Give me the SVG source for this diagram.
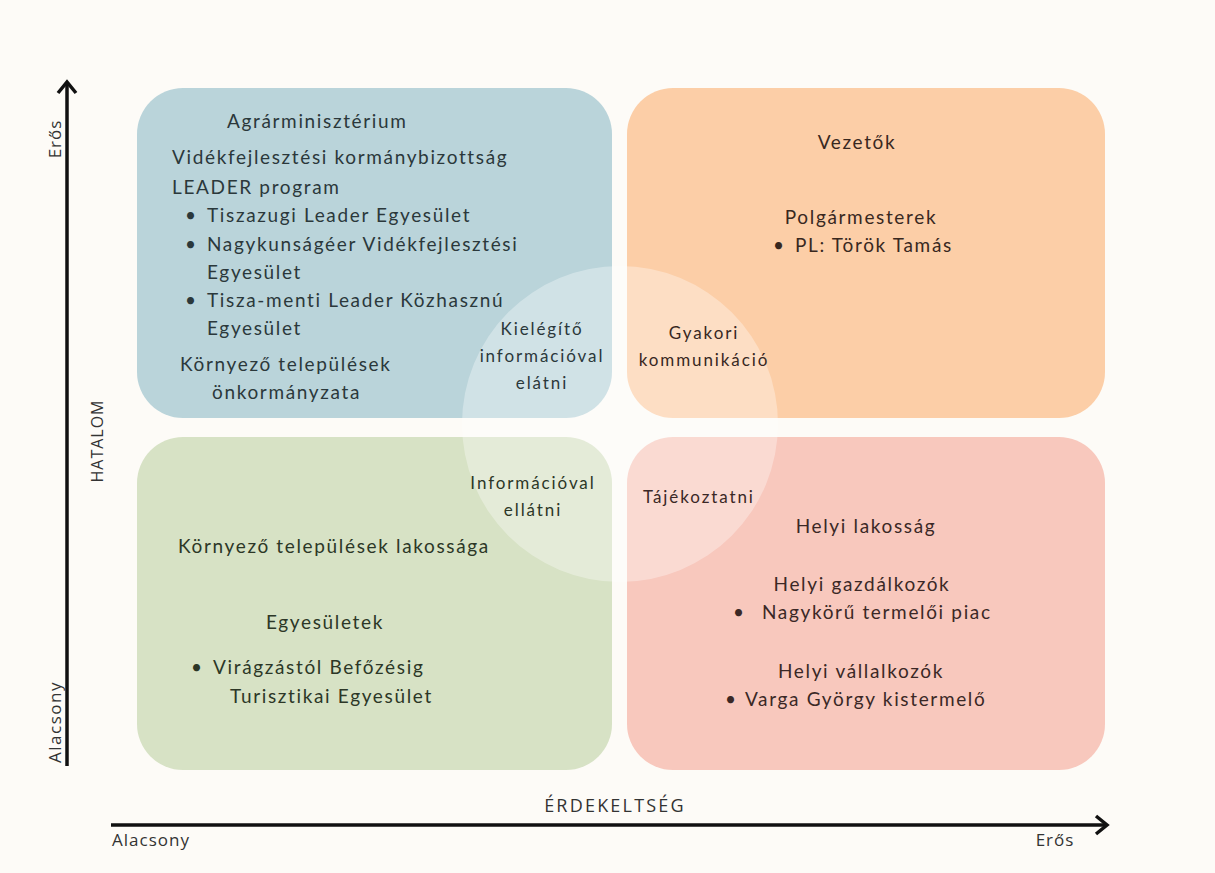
<svg xmlns="http://www.w3.org/2000/svg" width="1215" height="873" viewBox="0 0 1215 873">
<defs>
<style>
.t{font-family:Lato,"Open Sans","Liberation Sans",sans-serif;font-size:19px;letter-spacing:1.65px;}
.s{font-size:17px;letter-spacing:1.9px;}
.tl{fill:#2b383b}
.tr{fill:#38281f}
.bl{fill:#2c3727}
.br{fill:#3b2826}
.ax{font-family:"Open Sans","Liberation Sans",sans-serif;font-size:17px;fill:#333;}
.m{text-anchor:middle}
.axis{stroke:#111;stroke-width:3.5;fill:none;stroke-linecap:butt}
.head{stroke:#111;stroke-width:3.5;fill:none;stroke-linejoin:miter}
</style>
</defs>
<rect width="1215" height="873" fill="#fdfbf7"/>
<g id="q-tl"><rect x="137" y="88" width="475" height="330" rx="46" fill="#bad4da"/></g>
<g id="q-tr"><rect x="627" y="88" width="478" height="330" rx="46" fill="#fccea7"/></g>
<g id="q-bl"><rect x="137" y="437" width="475" height="333" rx="46" fill="#d7e2c5"/></g>
<g id="q-br"><rect x="627" y="437" width="478" height="333" rx="46" fill="#f8c8bd"/></g>
<g id="overlay"><circle cx="620" cy="424" r="158" fill="#ffffff" fill-opacity="0.33"/></g>

<g id="text-tl" class="t tl">
<text x="227" y="128">Agrárminisztérium</text>
<text x="172" y="164">Vidékfejlesztési kormánybizottság</text>
<text x="172" y="194">LEADER program</text>
<text x="185" y="222">•</text><text x="207" y="222">Tiszazugi Leader Egyesület</text>
<text x="185" y="251">•</text><text x="207" y="251">Nagykunságéer Vidékfejlesztési</text>
<text x="207" y="279">Egyesület</text>
<text x="185" y="307">•</text><text x="207" y="307">Tisza-menti Leader Közhasznú</text>
<text x="207" y="335">Egyesület</text>
<text x="180" y="371">Környező települések</text>
<text x="212" y="399">önkormányzata</text>
</g>
<g id="text-tl-strategy" class="t s tl m">
<text x="542" y="335">Kielégítő</text>
<text x="542" y="362">információval</text>
<text x="542" y="389">elátni</text>
</g>

<g id="text-tr" class="t tr">
<text class="m" x="857" y="149">Vezetők</text>
<text class="m" x="861" y="224">Polgármesterek</text>
<text x="773" y="252">•</text><text x="795" y="252">PL: Török Tamás</text>
</g>
<g id="text-tr-strategy" class="t s tr m">
<text x="704" y="339">Gyakori</text>
<text x="704" y="366">kommunikáció</text>
</g>

<g id="text-bl" class="t bl">
<text x="178" y="553">Környező települések lakossága</text>
<text class="m" x="325" y="629">Egyesületek</text>
<text x="191" y="674">•</text><text x="213" y="674">Virágzástól Befőzésig</text>
<text x="230" y="703">Turisztikai Egyesület</text>
</g>
<g id="text-bl-strategy" class="t s bl m">
<text x="533" y="489">Információval</text>
<text x="533" y="516">ellátni</text>
</g>

<g id="text-br" class="t br">
<text class="m" x="866" y="533">Helyi lakosság</text>
<text class="m" x="862" y="591">Helyi gazdálkozók</text>
<text x="733" y="619">•</text><text x="762" y="619">Nagykörű termelői piac</text>
<text class="m" x="861" y="678">Helyi vállalkozók</text>
<text x="725" y="706">•</text><text x="745" y="706">Varga György kistermelő</text>
</g>
<g id="text-br-strategy" class="t s br">
<text x="643" y="503">Tájékoztatni</text>
</g>

<g id="connectors">
<line class="axis" x1="67" y1="766" x2="67" y2="83"/>
<path class="head" d="M58,93 L67,82 L76,93"/>
<line class="axis" x1="111" y1="825" x2="1106" y2="825"/>
<path class="head" d="M1096,816 L1107,825 L1096,834"/>
</g>

<g id="axis-labels" class="ax">
<text transform="translate(61,139) rotate(-90)" text-anchor="middle" style="letter-spacing:1px">Erős</text>
<text transform="translate(61,722) rotate(-90)" text-anchor="middle" style="letter-spacing:1.5px">Alacsony</text>
<text transform="translate(103,441) rotate(-90)" text-anchor="middle" style="letter-spacing:1px;font-size:16px">HATALOM</text>
<text x="615" y="812" text-anchor="middle" style="letter-spacing:2.2px;font-size:18px">ÉRDEKELTSÉG</text>
<text x="112" y="846" style="letter-spacing:1px">Alacsony</text>
<text x="1055" y="846" text-anchor="middle" style="letter-spacing:1px">Erős</text>
</g>
</svg>
